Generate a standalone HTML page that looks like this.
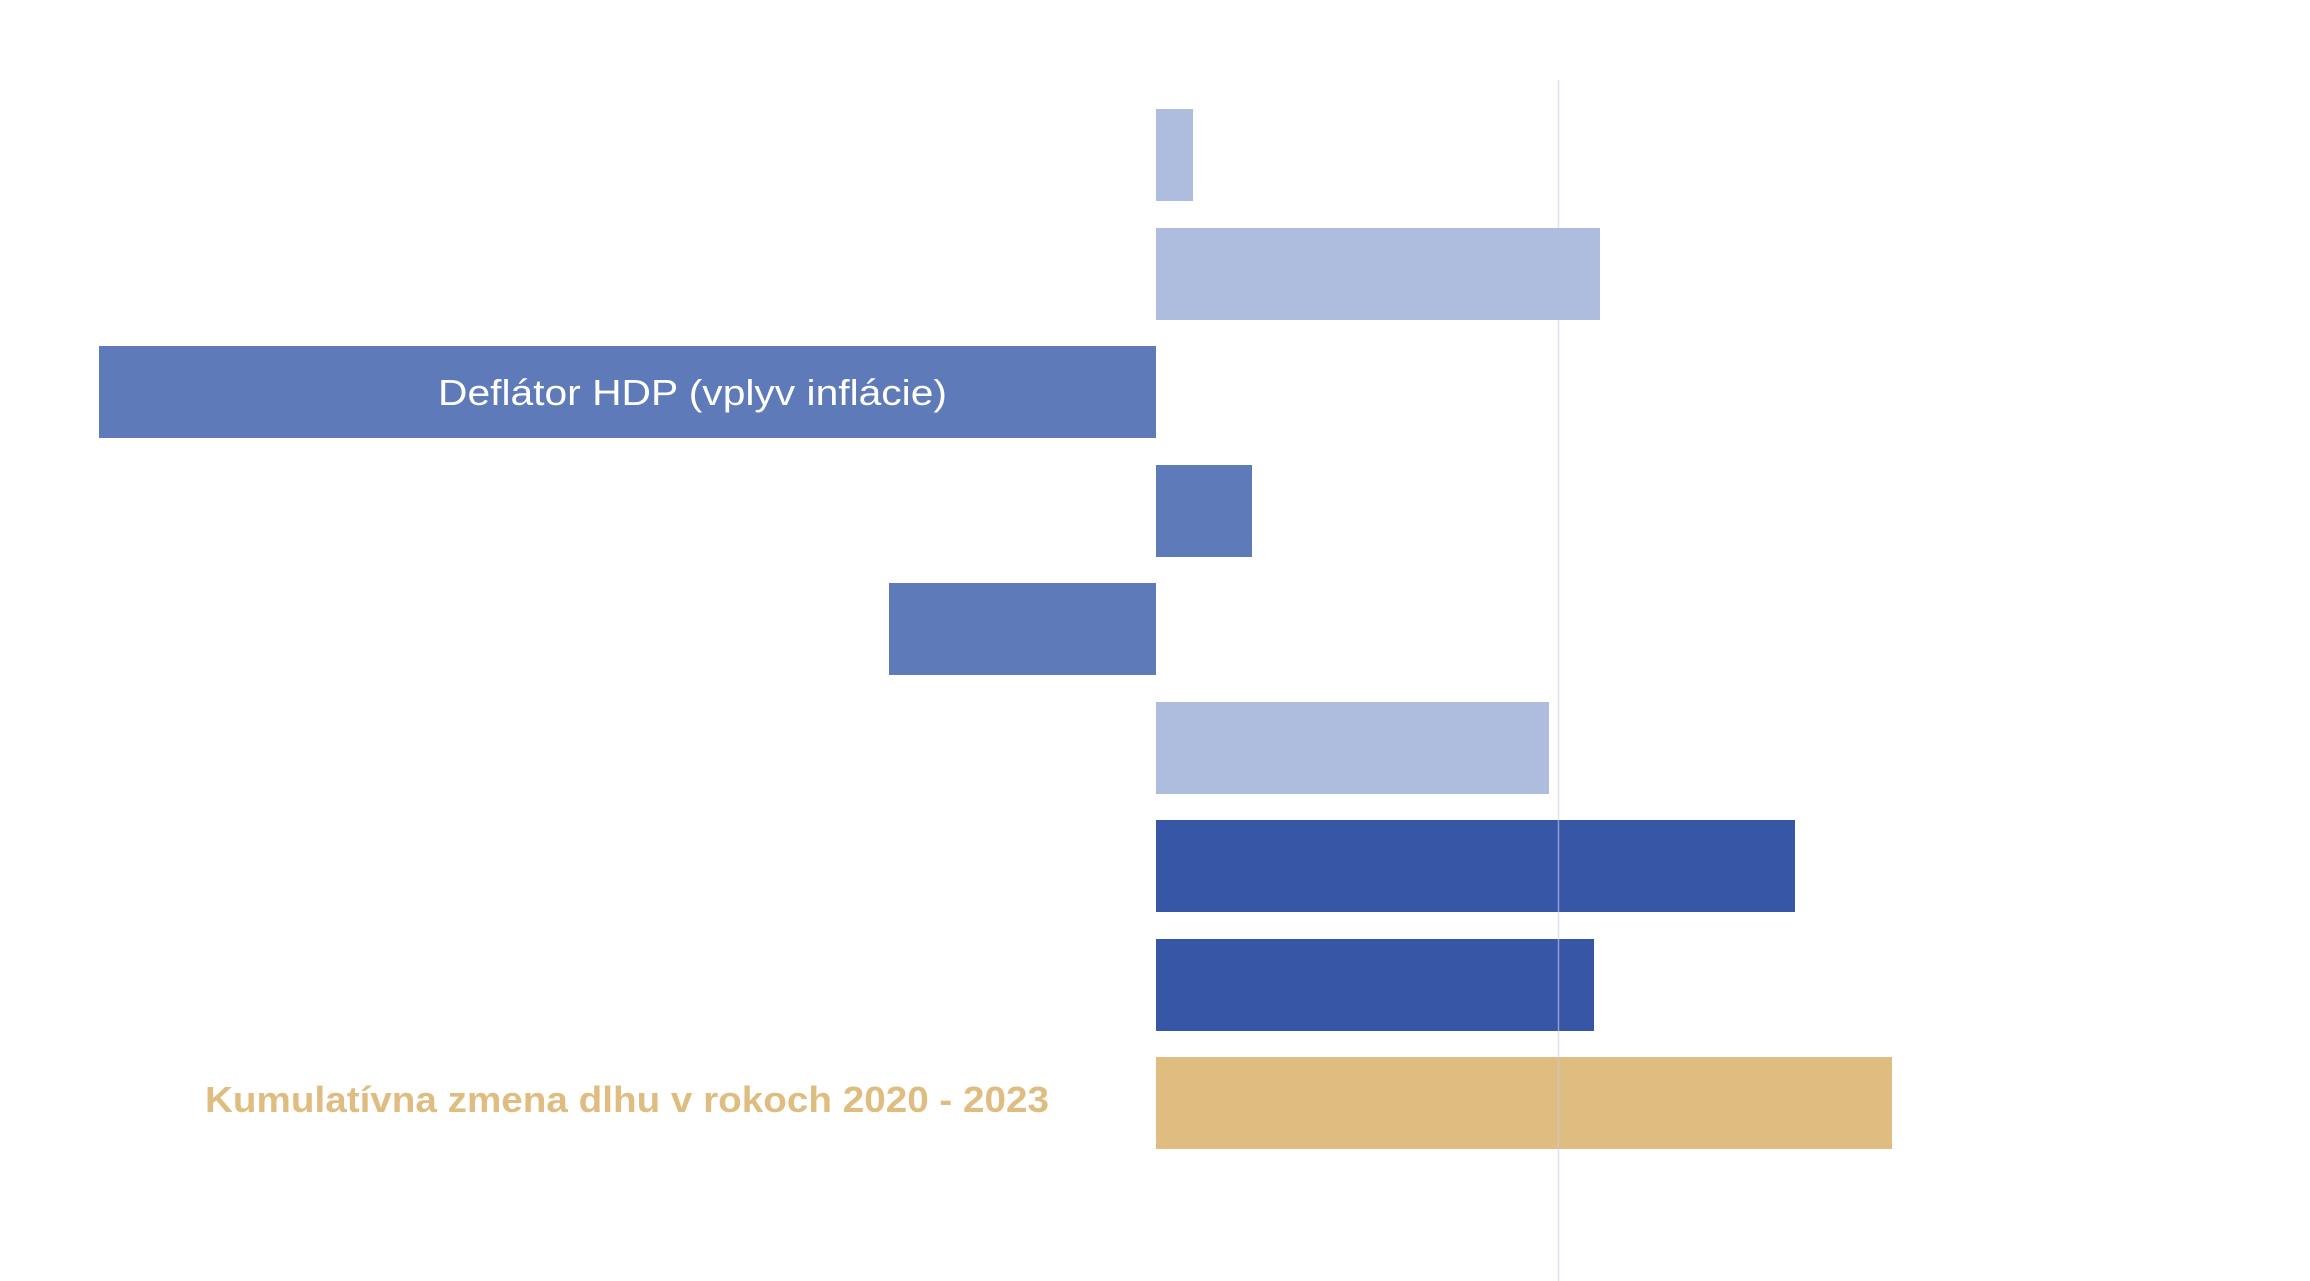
<!DOCTYPE html>
<html><head><meta charset="utf-8"><style>html,body{margin:0;padding:0;background:#fff;}svg{display:block}</style></head>
<body>
<svg width="2310" height="1281" viewBox="0 0 2310 1281" xmlns="http://www.w3.org/2000/svg">
<rect width="2310" height="1281" fill="#fff"/>
<rect x="1156" y="109" width="37" height="92" fill="#aebcdd"/>
<rect x="99" y="346" width="1057" height="92" fill="#5e7ab8"/>
<rect x="1156" y="465" width="96" height="92" fill="#5e7ab8"/>
<rect x="889" y="583" width="267" height="92" fill="#5e7ab8"/>
<rect x="1156" y="702" width="393" height="92" fill="#aebcdd"/>
<rect x="1156" y="820" width="639" height="92" fill="#3757a6"/>
<rect x="1156" y="939" width="438" height="92" fill="#3757a6"/>
<rect x="1156" y="1057" width="736" height="92" fill="#dfbc80"/>
<line x1="1558.5" y1="80" x2="1558.5" y2="1281" stroke="#c8cde8" stroke-opacity="0.6" stroke-width="1.5"/>
<rect x="1156" y="228" width="444" height="92" fill="#aebcdd"/>
<text x="438" y="405" font-family="Liberation Sans, sans-serif" font-size="36" fill="#fff" textLength="509" lengthAdjust="spacingAndGlyphs">Deflátor HDP (vplyv inflácie)</text>
<text x="205" y="1112" font-family="Liberation Sans, sans-serif" font-size="36" font-weight="bold" fill="#dfbc80" textLength="844" lengthAdjust="spacingAndGlyphs">Kumulatívna zmena dlhu v rokoch 2020 - 2023</text>
</svg>
</body></html>
